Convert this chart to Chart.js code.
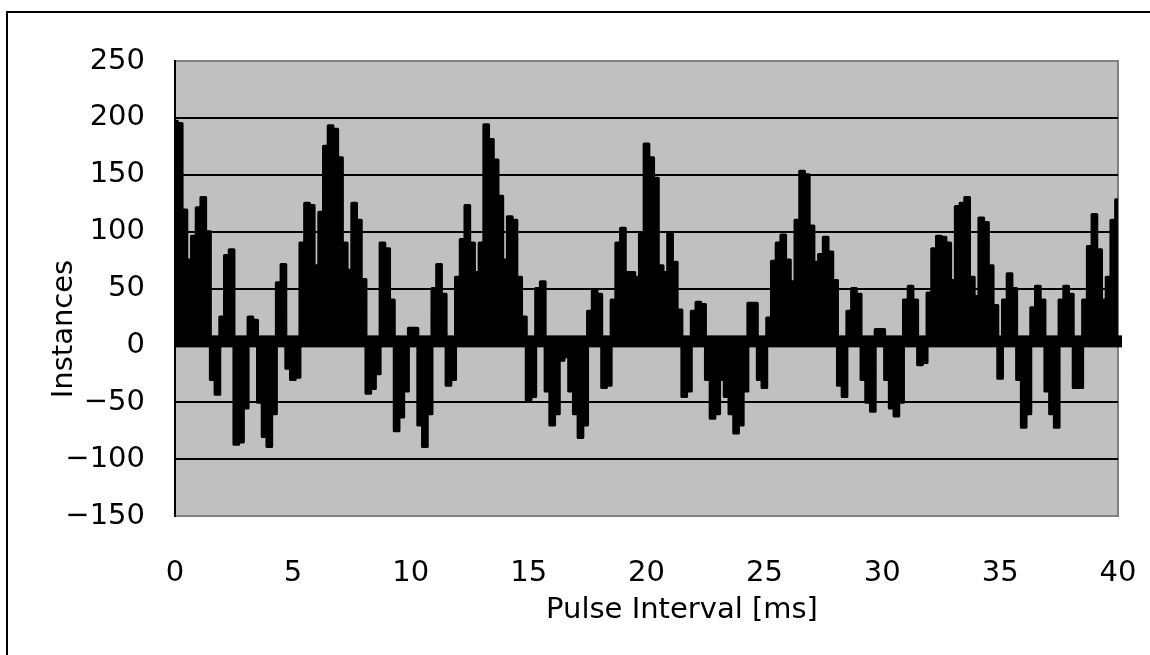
<!DOCTYPE html>
<html>
<head>
<meta charset="utf-8">
<script src="https://cdn.jsdelivr.net/npm/chart.js@4.4.1/dist/chart.umd.min.js"></script>
<style>
    body { margin: 0; background: #fff; overflow: hidden; }
    #frame { position: absolute; left: 6px; top: 11px; width: 1200px; height: 700px; border: 2px solid #000; }
    #wrap { position: absolute; left: 0; top: 0; width: 1150px; height: 655px; }
</style>
</head>
<body>
<div id="frame"></div>
<div id="wrap"><canvas id="pulseChart"></canvas></div>
<script>
// sampled every 0.2 ms from 0 to 40 ms
const sampleStep = 0.2;
const instances = [
    197, 195, 119, 75, 96, 121, 130, 100, -30, -43,
    25, 79, 84, -87, -85, -55, 25, 22, -50, -80,
    -89, -60, 55, 71, -20, -30, -28, 90, 125, 123,
    70, 117, 175, 193, 190, 165, 90, 66, 125, 110,
    58, -42, -38, -25, 90, 85, 40, -75, -63, -40,
    15, 15, -70, -89, -60, 50, 71, 45, -35, -30,
    60, 93, 123, 90, 64, 90, 194, 181, 163, 131,
    75, 113, 110, 60, 25, -48, -45, 50, 56, -40,
    -70, -60, -13, -10, -40, -60, -81, -70, 30, 49,
    45, -37, -35, 40, 90, 103, 64, 64, 60, 99,
    177, 165, 147, 70, 64, 99, 73, 31, -45, -40,
    30, 38, 36, -30, -64, -60, -30, -45, -60, -77,
    -70, -40, 37, 37, -30, -37, 24, 74, 90, 97,
    75, 56, 110, 153, 150, 105, 73, 80, 95, 82,
    57, -35, -45, 30, 50, 45, -30, -50, -58, 14,
    14, -30, -55, -62, -50, 40, 52, 40, -17, -15,
    46, 85, 96, 95, 90, 57, 122, 125, 130, 60,
    43, 112, 108, 70, 35, -29, 40, 63, 50, -30,
    -72, -60, 33, 52, 40, -40, -60, -72, 40, 52,
    45, -37, -37, 40, 87, 115, 84, 40, 60, 110,
    128
];
const xTicks = [0, 5, 10, 15, 20, 25, 30, 35, 40];
const yTicks = [-150, -100, -50, 0, 50, 100, 150, 200, 250];
const xTitle = 'Pulse Interval [ms]';
const yTitle = 'Instances';

const points = instances.map((v, i) => ({ x: +(i * sampleStep).toFixed(1), y: v }));
const FONT = 'DejaVu Sans';

// grey plot area, thick band along zero, axis titles
const plotDecor = {
    id: 'plotDecor',
    beforeDraw(chart) {
        const { ctx, chartArea: a } = chart;
        ctx.save();
        ctx.fillStyle = '#c0c0c0';
        ctx.fillRect(a.left, a.top, a.right - a.left, a.bottom - a.top);
        ctx.strokeStyle = '#808080';
        ctx.lineWidth = 2;
        ctx.strokeRect(a.left, a.top, a.right - a.left, a.bottom - a.top);
        ctx.restore();
    },
    beforeDatasetsDraw(chart) {
        const { ctx, chartArea: a, scales } = chart;
        const y0 = scales.y.getPixelForValue(0);
        ctx.save();
        ctx.fillStyle = '#000';
        ctx.fillRect(a.left, y0 - 10, a.right - a.left + 4, 12);
        ctx.restore();
    },
    afterDraw(chart) {
        const { ctx } = chart;
        ctx.save();
        ctx.fillStyle = '#000';
        ctx.font = '29px "' + FONT + '"';
        ctx.textAlign = 'center';
        ctx.textBaseline = 'alphabetic';
        ctx.fillText(xTitle, 682, 618);
        ctx.translate(72, 329);
        ctx.rotate(-Math.PI / 2);
        ctx.fillText(yTitle, 0, 0);
        ctx.restore();
    }
};

new Chart(document.getElementById('pulseChart'), {
    type: 'line',
    data: {
        datasets: [{
            label: yTitle,
            data: points,
            stepped: 'middle',
            fill: 'origin',
            backgroundColor: '#000',
            borderColor: '#000',
            borderWidth: 3,
            borderJoinStyle: 'round',
            pointRadius: 0
        }]
    },
    options: {
        responsive: true,
        maintainAspectRatio: false,
        animation: false,
        layout: { padding: { left: 0, top: 61, right: 32, bottom: 0 } },
        plugins: { legend: { display: false }, tooltip: { enabled: false } },
        scales: {
            x: {
                type: 'linear',
                min: 0,
                max: 40,
                afterBuildTicks: s => { s.ticks = xTicks.map(v => ({ value: v })); },
                afterFit: s => { s.height = 139; s.paddingLeft = 0; s.paddingRight = 0; },
                grid: { display: false, drawTicks: false },
                border: { display: false },
                ticks: { color: '#000', padding: 40, maxRotation: 0, font: { family: FONT, size: 29 } }
            },
            y: {
                min: -150,
                max: 250,
                afterBuildTicks: s => { s.ticks = yTicks.map(v => ({ value: v })); },
                afterFit: s => { s.width = 175; s.paddingTop = 0; s.paddingBottom = 0; },
                grid: {
                    drawTicks: false,
                    color: c => (c.tick.value === 250 || c.tick.value === -150) ? '#808080' : '#000',
                    lineWidth: 2
                },
                border: { display: true, color: '#000', width: 2 },
                ticks: {
                    color: '#000',
                    padding: 30,
                    font: { family: FONT, size: 29 },
                    callback: v => v < 0 ? '\u2212' + Math.abs(v) : String(v)
                }
            }
        }
    },
    plugins: [plotDecor]
});
</script>
</body>
</html>
